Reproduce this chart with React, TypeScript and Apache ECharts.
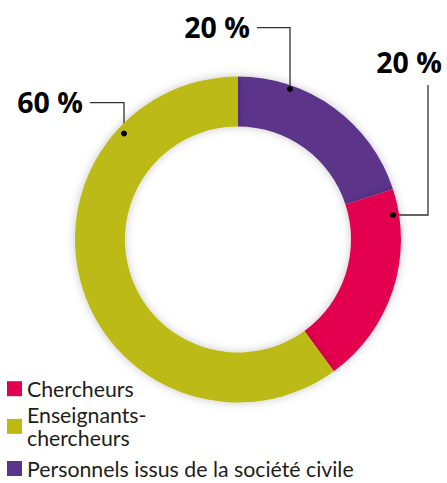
import React, { useEffect, useRef } from 'react';
import * as echarts from 'echarts';

// Data (pie order, clockwise from 12 o'clock)
const categories = ['Personnels issus de la société civile', 'Chercheurs', 'Enseignants-chercheurs'];
const values = [20, 20, 60];
const colors = ['#5b358b', '#e3004f', '#bcba12'];

// Legend order and display text
const legendOrder = ['Chercheurs', 'Enseignants-chercheurs', 'Personnels issus de la société civile'];
const legendDisplay = ['Chercheurs', 'Enseignants-\nchercheurs', 'Personnels issus de la société civile'];

// Annotation layout (pixels)
const anchors = [[290, 89], [393, 215], [124, 133.5]];
const labelPos = [
  { x: 250, y: 26.5 },
  { x: 442, y: 61.5 },
  { x: 83, y: 101.5 },
];
const leaderPaths = [
  [[290, 89], [290, 27.7], [257, 27.7]],
  [[393, 215], [428, 215], [428, 85]],
  [[124, 133.5], [124, 102.7], [90, 102.7]],
];
const legendTops = [377, 397, 458];
const legendLineHeights = [23.4, 23.4, 20];

export default function App() {
  const ref = useRef<HTMLDivElement>(null);
  useEffect(() => {
    if (!ref.current) return;
    const chart = echarts.init(ref.current, null, { renderer: 'svg' });
    const legendFont = (i: number) => ({
      fontFamily: 'Lato',
      fontSize: 21.3,
      lineHeight: legendLineHeights[i],
      color: '#1d1d1b',
    });
    chart.setOption({
      animation: false,
      legend: legendOrder.map((name, i) => ({
        orient: 'vertical',
        left: 7,
        top: legendTops[i],
        padding: 0,
        itemWidth: 15,
        itemHeight: 15,
        icon: 'rect',
        selectedMode: false,
        formatter: () => legendDisplay[i],
        data: [
          {
            name,
            textStyle: i === 1 ? { ...legendFont(i), padding: [12, 0, 0, 0] } : legendFont(i),
          },
        ],
        textStyle: legendFont(i),
      })),
      series: [
        {
          type: 'pie',
          center: [238, 239.5],
          radius: [113, 163],
          startAngle: 90,
          clockwise: true,
          avoidLabelOverlap: false,
          silent: true,
          itemStyle: {
            shadowBlur: 10,
            shadowColor: 'rgba(0,0,0,0.22)',
          },
          label: {
            show: true,
            position: 'outside',
            formatter: '{c} %',
            fontFamily: 'Open Sans',
            fontWeight: 700,
            fontSize: 28.5,
            color: '#000',
          },
          labelLine: {
            show: true,
            smooth: false,
            lineStyle: { color: '#333', width: 1.3 },
          },
          labelLayout: (params: any) => {
            const i = params.dataIndex;
            return {
              x: labelPos[i].x,
              y: labelPos[i].y,
              align: 'right',
              verticalAlign: 'middle',
              labelLinePoints: leaderPaths[i],
            };
          },
          data: categories.map((name, i) => ({
            name,
            value: values[i],
            itemStyle: { color: colors[i] },
          })),
        },
      ],
      graphic: anchors.map((p) => ({
        type: 'circle',
        shape: { cx: p[0], cy: p[1], r: 3 },
        style: { fill: '#000' },
        z: 100,
      })),
    });
    return () => chart.dispose();
  }, []);
  return (
    <div
      ref={ref}
      style={{ position: 'absolute', left: 0, top: 0, width: 447, height: 483 }}
    />
  );
}
